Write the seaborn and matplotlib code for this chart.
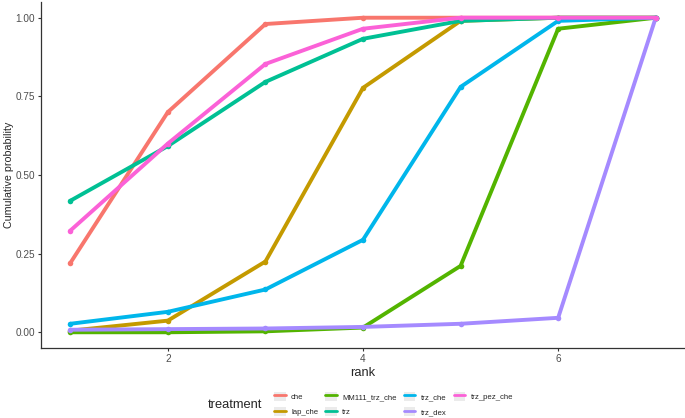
import matplotlib
matplotlib.use("Agg")
import matplotlib.pyplot as plt
from matplotlib.patches import Patch
import pandas as pd
import seaborn as sns

ranks = [1, 2, 3, 4, 5, 6, 7]
treatments = ["che", "lap_che", "MM111_trz_che", "trz", "trz_che", "trz_dex", "trz_pez_che"]
colors = ["#F8766D", "#C49A00", "#53B400", "#00C094", "#00B6EB", "#A58AFF", "#FB61D7"]

che = [0.22, 0.70, 0.98, 1.00, 1.00, 1.00, 1.00]
lap_che = [0.005, 0.037, 0.225, 0.777, 0.99, 1.00, 1.00]
mm111_trz_che = [0.0, 0.0, 0.003, 0.015, 0.211, 0.965, 1.00]
trz = [0.418, 0.592, 0.796, 0.933, 0.99, 1.00, 1.00]
trz_che = [0.027, 0.065, 0.136, 0.294, 0.78, 0.99, 1.00]
trz_dex = [0.008, 0.010, 0.012, 0.017, 0.027, 0.046, 1.00]
trz_pez_che = [0.323, 0.60, 0.853, 0.965, 1.00, 1.00, 1.00]

series = [che, lap_che, mm111_trz_che, trz, trz_che, trz_dex, trz_pez_che]
df = pd.concat(
    [pd.DataFrame({"rank": ranks, "prob": vals, "treatment": name})
     for name, vals in zip(treatments, series)],
    ignore_index=True,
)

sns.set_style("white")
plt.rcParams["font.family"] = ["Liberation Sans", "DejaVu Sans"]

fig = plt.figure(figsize=(6.85, 4.18), dpi=100)
ax = fig.add_axes([41 / 685, 70 / 418, 644 / 685, 346 / 418])

sns.lineplot(
    data=df, x="rank", y="prob", hue="treatment", hue_order=treatments,
    palette=colors, linewidth=2.8, marker="o", markersize=4, markeredgewidth=0,
    legend=False, ax=ax,
)

ax.set_xlim(0.7, 7.3)
ax.set_ylim(-0.05, 1.05)
ax.set_xticks([2, 4, 6])
ax.set_yticks([0, 0.25, 0.5, 0.75, 1.0])
ax.set_yticklabels(["0.00", "0.25", "0.50", "0.75", "1.00"])
ax.tick_params(axis="both", labelsize=7.2, labelcolor="#4D4D4D", color="#333333",
               length=2.5, width=0.8, direction="out", left=True, bottom=True, pad=2)
for side in ["top", "right"]:
    ax.spines[side].set_visible(False)
for side in ["left", "bottom"]:
    ax.spines[side].set_color("#333333")
    ax.spines[side].set_linewidth(0.9)
ax.set_xlabel("rank", fontsize=9.3, labelpad=2)
ax.set_ylabel("Cumulative probability", fontsize=7.7, labelpad=1)

# legend keys: grey box behind a line, like the ggplot keys
handles = [
    (Patch(facecolor="#EBEBEB", edgecolor="none"),
     plt.Line2D([], [], color=c, linewidth=2.0))
    for c in colors
]
fig.legend(
    handles, treatments, loc="center left", bbox_to_anchor=(270 / 685, 1 - 404 / 418),
    ncol=4, frameon=False, fontsize=5.6, handlelength=1.5, handleheight=1.5,
    handletextpad=0.7, columnspacing=0.9, labelspacing=0.75, borderpad=0,
)
fig.text(235 / 685, 1 - 405 / 418, "treatment", fontsize=9.3, ha="center", va="center")

fig.savefig("out.png", dpi=100)
